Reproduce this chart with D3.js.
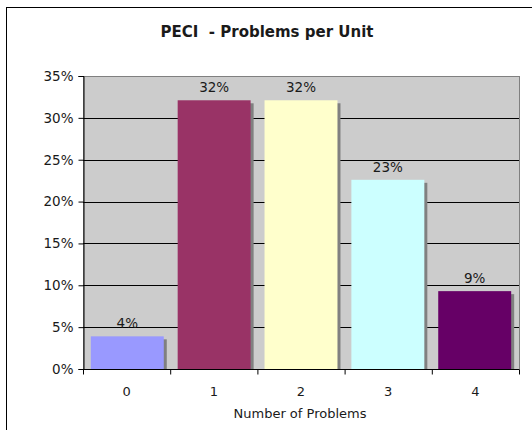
<!DOCTYPE html>
<meta charset="utf-8">
<div id="chart"></div>
<style>
body { margin: 0; background: #fff; font-family: 'DejaVu Sans', Verdana, sans-serif; }
svg text { fill: #1a1a1a; }
</style>
<script src="https://cdn.jsdelivr.net/npm/d3@7"></script>
<script>
var categories = ["0", "1", "2", "3", "4"];
var shares = [3.9, 32.1, 32.1, 22.6, 9.3];
var barColors = ["#9999ff", "#993366", "#ffffcc", "#ccffff", "#660066"];
var yTicks = [0, 5, 10, 15, 20, 25, 30, 35];

var w = 532, h = 430;
var plotL = 83, plotR = 519, plotT = 76, plotB = 369;

var svg = d3.select("#chart")
  .append("svg")
    .attr("width", w)
    .attr("height", h);

// outer chart border
svg.append("rect")
  .attr("x", 6.5).attr("y", 7.5)
  .attr("width", w + 10).attr("height", h + 10)
  .attr("fill", "#fff")
  .attr("stroke", "#000");

svg.append("text")
  .attr("x", 267).attr("y", 37)
  .attr("text-anchor", "middle")
  .style("font-size", "15px")
  .style("font-weight", "bold")
  .style("white-space", "pre")
  .text("PECI  - Problems per Unit");

var x = d3.scaleBand()
  .domain(categories)
  .range([plotL, plotR])
  .paddingInner(0.16)
  .paddingOuter(0.09);

var xb = d3.scaleBand().domain(categories).range([plotL, plotR]);

var y = d3.scaleLinear()
  .domain([0, 35])
  .range([plotB, plotT]);

// plot area
svg.append("rect")
  .attr("x", plotL + 0.5).attr("y", plotT + 0.5)
  .attr("width", plotR - plotL).attr("height", plotB - plotT)
  .attr("fill", "#cccccc")
  .attr("stroke", "#808080");

// gridlines
svg.selectAll(".grid")
  .data(yTicks.filter(function(d){ return d > 0 && d < 35; }))
  .enter()
  .append("line")
    .attr("x1", plotL).attr("x2", plotR)
    .attr("y1", function(d){ return Math.round(y(d)) + 0.5; })
    .attr("y2", function(d){ return Math.round(y(d)) + 0.5; })
    .attr("stroke", "#000");

var data = categories.map(function(c, i){ return { cat: c, v: shares[i], color: barColors[i] }; });

// shadows
svg.selectAll(".shadow")
  .data(data)
  .enter()
  .append("rect")
    .attr("x", function(d){ return x(d.cat) + 3; })
    .attr("y", function(d){ return y(d.v) + 3; })
    .attr("width", x.bandwidth())
    .attr("height", function(d){ return plotB - y(d.v) - 3; })
    .attr("fill", "#808080");

svg.selectAll(".bar")
  .data(data)
  .enter()
  .append("rect")
    .attr("x", function(d){ return x(d.cat); })
    .attr("y", function(d){ return y(d.v); })
    .attr("width", x.bandwidth())
    .attr("height", function(d){ return plotB - y(d.v); })
    .attr("fill", function(d){ return d.color; });

svg.selectAll(".lbl")
  .data(data)
  .enter()
  .append("text")
    .attr("x", function(d){ return x(d.cat) + x.bandwidth() / 2; })
    .attr("y", function(d){ return y(d.v) - 8; })
    .attr("text-anchor", "middle")
    .style("font-size", "13.5px")
    .text(function(d){ return Math.round(d.v) + "%"; });

// y axis
var yAxis = svg.append("g")
  .attr("transform", "translate(" + (plotL + 0.5) + ",0)")
  .call(d3.axisLeft(y).tickValues(yTicks).tickSize(5).tickPadding(5)
    .tickFormat(function(d){ return d + "%"; }));
yAxis.select(".domain").attr("stroke", "#000");
yAxis.selectAll("text").style("font-size", "13.5px").style("font-family", "'DejaVu Sans', Verdana, sans-serif");

// x axis
var xAxis = svg.append("g")
  .attr("transform", "translate(0," + (plotB + 0.5) + ")");
xAxis.append("line")
  .attr("x1", plotL).attr("x2", plotR)
  .attr("stroke", "#000");
xAxis.selectAll(".tk")
  .data(categories.concat(["end"]))
  .enter()
  .append("line")
    .attr("x1", function(d){ return (d === "end" ? plotR : xb(d)) + 0.5; })
    .attr("x2", function(d){ return (d === "end" ? plotR : xb(d)) + 0.5; })
    .attr("y1", 0).attr("y2", 5)
    .attr("stroke", "#000");
xAxis.selectAll(".xl")
  .data(categories)
  .enter()
  .append("text")
    .attr("x", function(d){ return xb(d) + xb.bandwidth() / 2; })
    .attr("y", 26)
    .attr("text-anchor", "middle")
    .style("font-size", "13px")
    .text(function(d){ return d; });

svg.append("text")
  .attr("x", (plotL + plotR) / 2 - 1).attr("y", 418)
  .attr("text-anchor", "middle")
  .style("font-size", "13px")
  .text("Number of Problems");
</script>
